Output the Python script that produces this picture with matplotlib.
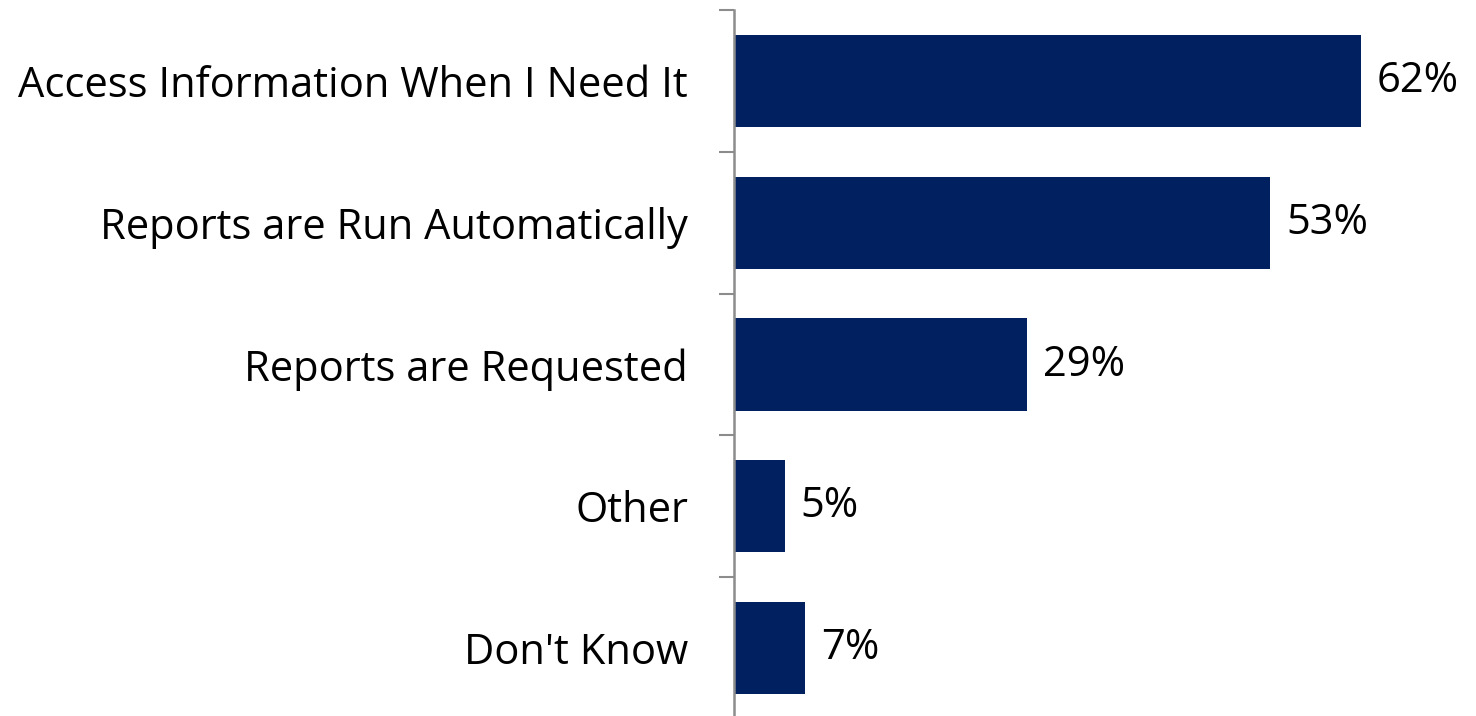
import matplotlib
matplotlib.use('Agg')
import matplotlib.pyplot as plt
from matplotlib.ticker import FixedLocator

plt.rcParams['font.family'] = ['Open Sans', 'DejaVu Sans']

categories = ["Access Information When I Need It",
              "Reports are Run Automatically",
              "Reports are Requested",
              "Other",
              "Don't Know"]
values = [62, 53, 29, 5, 7]

BAR_COLOR = "#002060"
AXIS_COLOR = "#8c8c8c"

fig = plt.figure(figsize=(14.76, 7.16), dpi=100)
ax = fig.add_axes([734 / 1476, -3 / 716, 1 - 734 / 1476 - 10 / 1476, 709 / 716])

ypos = list(range(len(categories)))
ax.barh(ypos, values, height=0.65, color=BAR_COLOR)
ax.set_ylim(len(categories) - 0.5, -0.5)
ax.set_xlim(0, 72.4)

for y, v in zip(ypos, values):
    ax.text(v + 1.6, y, str(v) + "%", va='center', ha='left', fontsize=30)

ax.set_yticks(ypos)
ax.set_yticklabels(categories, fontsize=30)
ax.tick_params(axis='y', which='major', length=0, pad=33)
ax.yaxis.set_minor_locator(FixedLocator([i - 0.5 for i in range(len(categories) + 1)]))
ax.tick_params(axis='y', which='minor', length=11, width=1.5, color=AXIS_COLOR)

ax.set_xticks([])
for s in ['top', 'right', 'bottom']:
    ax.spines[s].set_visible(False)
ax.spines['left'].set_color(AXIS_COLOR)
ax.spines['left'].set_linewidth(1.8)

fig.savefig("out.png", dpi=100)
